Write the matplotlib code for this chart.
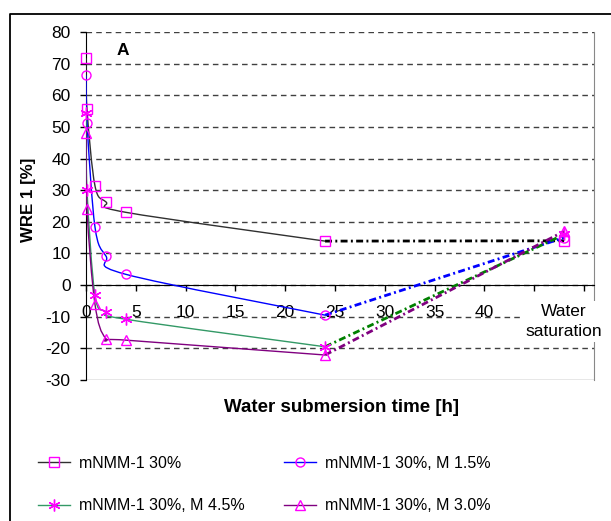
import numpy as np
import matplotlib
matplotlib.use('Agg')
import matplotlib.pyplot as plt
from matplotlib.path import Path
from matplotlib.patches import PathPatch
from matplotlib.lines import Line2D

plt.rcParams['font.family'] = ['Liberation Sans', 'DejaVu Sans']
plt.rcParams['axes.unicode_minus'] = False

# time points [h]; the last point is "water saturation"
t = [0, 0.1, 0.9, 2, 4, 24]
t_sat = 48

labels = ['mNMM-1 30%', 'mNMM-1 30%, M 1.5%', 'mNMM-1 30%, M 4.5%', 'mNMM-1 30%, M 3.0%']
wre_m0 = [71.7, 55.6, 31.4, 26.3, 23.0, 13.9]
wre_m15 = [66.3, 51.3, 18.4, 9.2, 3.4, -9.5]
wre_m45 = [54.3, 30.0, -3.2, -8.4, -10.8, -19.5]
wre_m30 = [48.1, 23.9, -6.0, -16.9, -17.4, -22.1]
wre_sat = [14.0, 15.0, 16.0, 17.0]

line_cols = ['#303030', '#0000ff', '#339966', '#800080']
dash_cols = ['#000000', '#0000ff', '#008000', '#800080']
markers = ['s', 'o', (6, 2, 0), '^']
msizes = [6.5, 6.5, 8.5, 6.5]
mk = '#ff00ff'

fig = plt.figure(figsize=(6.11, 5.21), dpi=100)
ax = fig.add_axes([86 / 611, 141 / 521, 508 / 611, 348 / 521])
ax.set_xlim(0, 51)
ax.set_ylim(-30, 80)


def smooth_path(xs, ys):
    # excel-like smoothed line, control points computed in screen space
    pts = ax.transData.transform(np.column_stack([xs, ys]))
    n = len(pts)
    verts = [pts[0]]
    codes = [Path.MOVETO]
    for i in range(n - 1):
        p0 = pts[i - 1] if i > 0 else pts[i]
        p1 = pts[i]
        p2 = pts[i + 1]
        p3 = pts[i + 2] if i + 2 < n else pts[i + 1]
        verts += [p1 + (p2 - p0) / 6, p2 - (p3 - p1) / 6, p2]
        codes += [Path.CURVE4] * 3
    verts = ax.transData.inverted().transform(np.array(verts))
    return Path(verts, codes)


series = [wre_m0, wre_m15, wre_m45, wre_m30]
for i, ys in enumerate(series):
    ax.add_patch(PathPatch(smooth_path(t, ys), fill=False, edgecolor=line_cols[i], lw=1.0, zorder=3))
for i, ys in enumerate(series):
    ax.plot([t[-1], t_sat], [ys[-1], wre_sat[i]], color=dash_cols[i], lw=2.0,
            dashes=(2.5, 1.2, 0.7, 1.2), zorder=3)
for i, ys in enumerate(series):
    ax.plot(t + [t_sat], ys + [wre_sat[i]], ls='none', marker=markers[i], ms=msizes[i],
            mfc='none', mec=mk, mew=1.0, zorder=4, clip_on=False)

# grid + frame
for yv in range(-20, 90, 10):
    ax.axhline(yv, color='#404040', lw=1.0, dashes=(4, 3), zorder=1)
ax.axhline(-30, color='#888888', lw=1.0, zorder=1)
ax.spines['top'].set_visible(False)
ax.spines['right'].set_color('#888888')
ax.spines['bottom'].set_position(('data', 0))
ax.spines['bottom'].set_color('black')
ax.spines['left'].set_color('black')

ax.set_yticks(range(-30, 90, 10))
ax.set_xticks(range(0, 55, 5))
ax.set_xticklabels([str(v) if v <= 40 else '' for v in range(0, 55, 5)])
ax.tick_params(axis='y', direction='out', length=4.5, width=1, pad=6.5, labelsize=12.5)
ax.tick_params(axis='x', direction='out', length=4, width=1, pad=10.5, labelsize=12.5)

ax.text(t_sat, -11.5, 'Water\nsaturation', ha='center', va='center', fontsize=12.5,
        linespacing=1.4, zorder=6, clip_on=False,
        bbox=dict(facecolor='white', edgecolor='none', pad=2))
ax.text(3.66, 74, 'A', ha='center', va='center', fontsize=12.5, fontweight='bold')

fig.text(342 / 611, 1 - 407 / 521, 'Water submersion time [h]', ha='center', va='center',
         fontsize=13.5, fontweight='bold')
fig.text(28 / 611, 1 - 200 / 521, 'WRE 1 [%]', ha='center', va='center', rotation=90,
         fontsize=12.2, fontweight='bold')

handles = [Line2D([], [], color=line_cols[i], lw=1.0, marker=markers[i], ms=msizes[i],
                  mfc='none', mec=mk, mew=1.0) for i in range(4)]
order = [0, 2, 1, 3]
fig.legend([handles[i] for i in order], [labels[i] for i in order], ncol=2,
           loc='upper left', bbox_to_anchor=(38 / 611, 1 - 456 / 521), frameon=False,
           fontsize=11.5, handlelength=2.0, handletextpad=0.55, columnspacing=2.5,
           labelspacing=1.7, borderpad=0, borderaxespad=0)

# outer frame (clipped on right / bottom)
fig.add_artist(Line2D([10 / 611, 10 / 611, 1.0], [0, 1 - 14 / 521, 1 - 14 / 521],
                      color='black', lw=1.3, transform=fig.transFigure))

fig.savefig('out.png', dpi=100)
